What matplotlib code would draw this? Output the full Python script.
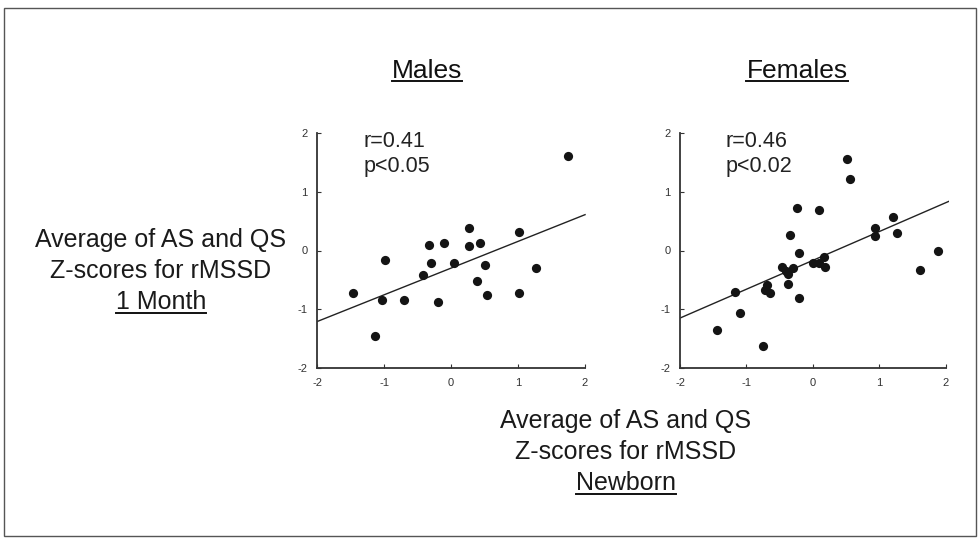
import matplotlib
matplotlib.use("Agg")
import matplotlib.pyplot as plt
from matplotlib.patches import Rectangle
from matplotlib.lines import Line2D

plt.rcParams['font.family'] = ['Liberation Sans', 'DejaVu Sans']

# Data
male_x = [1.75, 0.275, 1.01, -0.325, -0.10, 0.275, 0.435, -0.985, -0.30, 0.04, 0.51,
          1.265, -0.425, 0.385, -1.465, -1.025, -0.70, -0.20, 0.535, 1.01, -1.135]
male_y = [1.61, 0.38, 0.31, 0.10, 0.13, 0.08, 0.13, -0.17, -0.22, -0.21, -0.25,
          -0.29, -0.41, -0.52, -0.72, -0.84, -0.84, -0.87, -0.76, -0.73, -1.46]
male_fit_x = [-2.0, 2.0]
male_fit_y = [-1.21, 0.61]

female_x = [0.51, 0.55, -0.24, 0.085, 1.2, 0.94, 0.94, 1.27, -0.34, 1.875, -0.215,
            0.0, 0.09, 0.16, 0.175, -0.47, -0.40, -0.30, -0.375, 1.615, -0.375,
            -1.175, -0.69, -0.725, -0.65, -0.215, -1.10, -1.45, -0.75]
female_y = [1.55, 1.22, 0.72, 0.69, 0.57, 0.39, 0.25, 0.30, 0.27, 0.0, -0.05,
            -0.21, -0.22, -0.11, -0.28, -0.28, -0.35, -0.29, -0.40, -0.33, -0.57,
            -0.70, -0.59, -0.67, -0.72, -0.81, -1.06, -1.36, -1.62]
female_fit_x = [-2.0, 2.05]
female_fit_y = [-1.15, 0.84]

ticks = [-2, -1, 0, 1, 2]
tick_labels = ['-2', '-1', '0', '1', '2']

W, H = 980, 538
fig = plt.figure(figsize=(9.8, 5.38), dpi=100)
fig.patches.append(Rectangle((0.004, 0.004), 0.992, 0.981, transform=fig.transFigure,
                             fill=False, edgecolor='#555555', linewidth=1.0))

def fy(px):
    return 1 - px / H

panels = [
    (317, 271.4, male_x, male_y, male_fit_x, male_fit_y, 'Males', 427, ['r=0.41', 'p<0.05']),
    (680, 269.3, female_x, female_y, female_fit_x, female_fit_y, 'Females', 797, ['r=0.46', 'p<0.02']),
]

underline = []
for left_px, w_px, xs, ys, fx, fyv, title, tcx, ann in panels:
    ax = fig.add_axes([left_px / W, fy(368), w_px / W, (368 - 133) / H])
    ax.scatter(xs, ys, s=44, color='#141414', zorder=3, linewidths=0)
    ax.plot(fx, fyv, color='#222222', linewidth=1.0)
    ax.set_xlim(-2, 2.05)
    ax.set_ylim(-2, 2)
    ax.set_xticks(ticks)
    ax.set_xticklabels(tick_labels)
    ax.set_yticks(ticks)
    ax.set_yticklabels(tick_labels)
    ax.spines['top'].set_visible(False)
    ax.spines['right'].set_visible(False)
    ax.spines['left'].set_bounds(-2, 2)
    ax.spines['bottom'].set_bounds(-2, 2)
    for sp in ('left', 'bottom'):
        ax.spines[sp].set_color('#333333')
        ax.spines[sp].set_linewidth(1.3)
    ax.tick_params(direction='in', length=3, labelsize=8, pad=7, colors='#333333')
    ax.set_facecolor('none')
    ax.text(-1.31, 1.76, ann[0], ha='left', va='baseline', fontsize=15.5, color='#222222')
    ax.text(-1.31, 1.33, ann[1], ha='left', va='baseline', fontsize=15.5, color='#222222')
    t = fig.text(tcx / W, fy(78), title, ha='center', va='baseline', fontsize=19, color='#111111')
    underline.append((t, 3))

for cx, base, lines in [(161, 247, ['Average of AS and QS', 'Z-scores for rMSSD', '1 Month']),
                        (626, 428, ['Average of AS and QS', 'Z-scores for rMSSD', 'Newborn'])]:
    for i, s in enumerate(lines):
        t = fig.text(cx / W, fy(base + 31 * i), s, ha='center', va='baseline',
                     fontsize=18, color='#1a1a1a')
    underline.append((t, 4))

fig.canvas.draw()
r = fig.canvas.get_renderer()
inv = fig.transFigure.inverted()
for t, off in underline:
    bb = t.get_window_extent(renderer=r)
    (x0, _), (x1, _) = inv.transform([(bb.x0, bb.y0), (bb.x1, bb.y1)])
    ty = t.get_position()[1] - off / H
    fig.add_artist(Line2D([x0, x1], [ty, ty], transform=fig.transFigure,
                          color='#111111', linewidth=1.4))

fig.savefig('out.png', dpi=100)
